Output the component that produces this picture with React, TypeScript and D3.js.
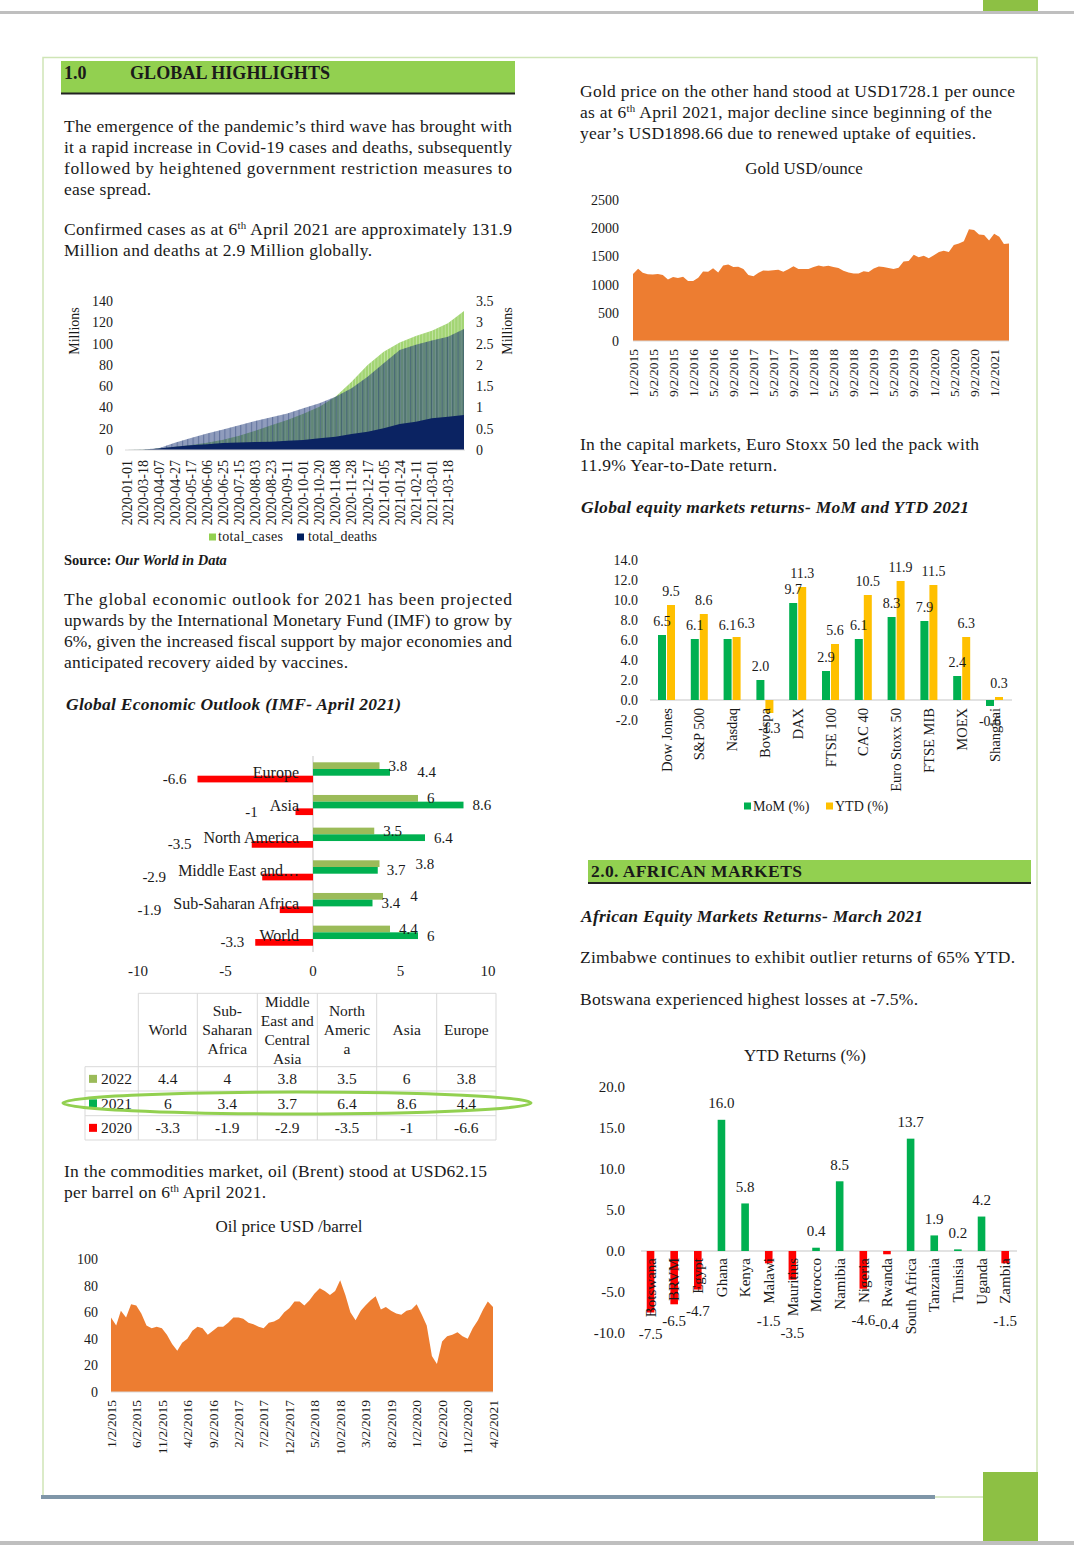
import { useEffect, useRef } from 'react';
import * as d3 from 'd3';

const W = 1074;
const H = 1561;
const FONT = '"Liberation Serif", "Times New Roman", serif';
const INK = '#1a1a1a';
const BODY = 17.5;

// Covid-19 (Our World in Data) — cases and deaths in millions
const covidDates = ['2020-01-01', '2020-03-18', '2020-04-07', '2020-04-27', '2020-05-17', '2020-06-06', '2020-06-25',
  '2020-07-15', '2020-08-03', '2020-08-23', '2020-09-11', '2020-10-01', '2020-10-20', '2020-11-08', '2020-11-28',
  '2020-12-17', '2021-01-05', '2021-01-24', '2021-02-11', '2021-03-01', '2021-03-18', '2021-04-06'];
const covidCasesM = [0, 0.2, 1.4, 3.0, 4.7, 6.8, 9.6, 13.4, 18.1, 23.2, 28.3, 34.0, 40.6, 50.0, 64.2, 79.9, 92.4, 100.9, 107.0, 112.0, 119.0, 130.5];
const covidDeathsM = [0, 0.01, 0.04, 0.17, 0.28, 0.39, 0.48, 0.58, 0.68, 0.77, 0.86, 0.98, 1.10, 1.25, 1.45, 1.72, 2.04, 2.35, 2.47, 2.57, 2.66, 2.84];
const covidDenseM = [0, 0, 1.5, 3, 4.5, 5.5, 6.5, 7, 7.5, 7.8, 8.8, 9.4, 11, 12.5, 15, 17.2, 20.4, 24.4, 26.6, 29.8, 31.3, 32.9];

// Gold USD/ounce, monthly from Jan 2015 to Apr 2021
const goldUsd = [
  1186, 1280, 1208, 1183, 1180, 1190, 1170, 1090, 1135, 1115, 1140, 1065,
  1062, 1120, 1232, 1230, 1290, 1215, 1340, 1357, 1310, 1315, 1275, 1170,
  1150, 1210, 1250, 1245, 1255, 1265, 1230, 1270, 1325, 1275, 1275, 1275,
  1310, 1340, 1320, 1335, 1310, 1295, 1245, 1215, 1195, 1195, 1235, 1225,
  1285, 1320, 1310, 1295, 1275, 1300, 1410, 1420, 1530, 1485, 1510, 1465,
  1520, 1580, 1600, 1580, 1700, 1730, 1770, 1980, 1970, 1890, 1880, 1780,
  1900, 1850, 1720, 1728];

// Brent oil USD/barrel, monthly from Jan 2015 to Apr 2021
const oilUsd = [
  56, 50, 61, 56, 66, 65, 59, 50, 48, 49, 48, 43,
  36, 31, 37, 40, 46, 49, 48, 43, 46, 49, 49, 52,
  56, 56, 55, 52, 51, 49, 48, 52, 53, 55, 60, 63,
  68, 68, 65, 69, 74, 78, 76, 73, 76, 84, 73, 60,
  54, 61, 65, 69, 72, 62, 64, 61, 59, 58, 61, 62,
  66, 58, 50, 27, 21, 38, 42, 43, 45, 42, 40, 48,
  54, 62, 68, 64];

// IMF outlook
const imfRegions = ['World', 'Sub-Saharan Africa', 'Middle East and Central Asia', 'North America', 'Asia', 'Europe'];
const imfChartLabels = ['World', 'Sub-Saharan Africa', 'Middle East and\u2026', 'North America', 'Asia', 'Europe'];
const imfHeaderLines = [['World'], ['Sub-', 'Saharan', 'Africa'], ['Middle', 'East and', 'Central', 'Asia'], ['North', 'Americ', 'a'], ['Asia'], ['Europe']];
const imfYears = ['2022', '2021', '2020'];
const imf2022 = [4.4, 4, 3.8, 3.5, 6, 3.8];
const imf2021 = [6, 3.4, 3.7, 6.4, 8.6, 4.4];
const imf2020 = [-3.3, -1.9, -2.9, -3.5, -1, -6.6];
const imfColors = ['#9bbb59', '#00b050', '#ff0000'];

// Global equity returns
const eqMarkets = ['Dow Jones', 'S&P 500', 'Nasdaq', 'Bovespa', 'DAX', 'FTSE 100', 'CAC 40', 'Euro Stoxx 50', 'FTSE MIB', 'MOEX', 'Shanghai'];
const eqMoM = [6.5, 6.1, 6.1, 2.0, 9.7, 2.9, 6.1, 8.3, 7.9, 2.4, -0.6];
const eqYTD = [9.5, 8.6, 6.3, -1.3, 11.3, 5.6, 10.5, 11.9, 11.5, 6.3, 0.3];

// African markets YTD
const afMarkets = ['Botswana', 'BRVM', 'Egypt', 'Ghana', 'Kenya', 'Malawi', 'Mauritius', 'Morocco', 'Namibia', 'Nigeria', 'Rwanda', 'South Africa', 'Tanzania', 'Tunisia', 'Uganda', 'Zambia'];
const afYTD = [-7.5, -6.5, -4.7, 16.0, 5.8, -1.5, -3.5, 0.4, 8.5, -4.6, -0.4, 13.7, 1.9, 0.2, 4.2, -1.5];

type Part = { t: string; sup?: boolean };
type Opt = { size?: number; weight?: string; italic?: boolean; anchor?: string; fill?: string; len?: number };

function txt(g: any, x: number, y: number, parts: string | Part[], o: Opt = {}) {
  const size = o.size || BODY;
  const t = g.append('text').attr('x', x).attr('y', y)
    .attr('font-family', FONT).attr('font-size', size).attr('fill', o.fill || INK);
  if (o.weight) t.attr('font-weight', o.weight);
  if (o.italic) t.attr('font-style', 'italic');
  if (o.anchor) t.attr('text-anchor', o.anchor);
  if (o.len) t.attr('textLength', o.len).attr('lengthAdjust', 'spacing');
  const arr = typeof parts === 'string' ? [{ t: parts }] : parts;
  let up = false;
  arr.forEach((p) => {
    const s = t.append('tspan').text(p.t);
    if (p.sup) { s.attr('font-size', size * 0.62).attr('dy', -6); up = true; }
    else if (up) { s.attr('dy', 6); up = false; }
  });
  return t;
}

function vtxt(g: any, x: number, y: number, s: string, size: number) {
  return g.append('text')
    .attr('transform', `translate(${x},${y}) rotate(-90)`)
    .attr('text-anchor', 'end').attr('dy', '0.35em')
    .attr('font-family', FONT).attr('font-size', size).attr('fill', INK)
    .text(s);
}

const monthDate = (i: number) => new Date(2015, i, 2);
const fmtDate = (d: Date) => `${d.getMonth() + 1}/${d.getDate()}/${d.getFullYear()}`;
const textW = (t: any) => (t.node() as SVGTextElement).getComputedTextLength();

export default function App() {
  const ref = useRef<SVGSVGElement>(null);

  useEffect(() => {
    if (!ref.current) return;
    const svg = d3.select(ref.current);
    svg.selectAll('*').remove();
    const defs = svg.append('defs');

    // page frame
    svg.append('rect').attr('width', W).attr('height', H).attr('fill', '#fff');
    svg.append('rect').attr('x', 0).attr('y', 11).attr('width', W).attr('height', 3).attr('fill', '#bfbfbf');
    svg.append('rect').attr('x', 983).attr('y', 0).attr('width', 55).attr('height', 11).attr('fill', '#8dc044');
    svg.append('path').attr('d', 'M43,1497 V57.5 H1037 V1472').attr('fill', 'none').attr('stroke', '#cfe5b6').attr('stroke-width', 1.5);
    svg.append('line').attr('x1', 935).attr('x2', 983).attr('y1', 1497).attr('y2', 1497).attr('stroke', '#cfe5b6').attr('stroke-width', 1.5);
    svg.append('rect').attr('x', 41).attr('y', 1495).attr('width', 894).attr('height', 4).attr('fill', '#7f96a8');
    svg.append('rect').attr('x', 983).attr('y', 1472).attr('width', 55).attr('height', 69).attr('fill', '#8dc044');
    svg.append('rect').attr('x', 0).attr('y', 1541).attr('width', W).attr('height', 4).attr('fill', '#bfbfbf');

    // ---------- left column text ----------
    svg.append('rect').attr('x', 61).attr('y', 61).attr('width', 454).attr('height', 32).attr('fill', '#92d050');
    svg.append('rect').attr('x', 61).attr('y', 92.5).attr('width', 454).attr('height', 2).attr('fill', '#222');
    txt(svg, 64, 79, '1.0', { size: 18, weight: 'bold' });
    txt(svg, 130, 79, 'GLOBAL HIGHLIGHTS', { size: 18, weight: 'bold', len: 200 });

    txt(svg, 64, 132, 'The emergence of the pandemic\u2019s third wave has brought with', { len: 448 });
    txt(svg, 64, 153, 'it a rapid increase in Covid-19 cases and deaths, subsequently', { len: 448 });
    txt(svg, 64, 174, 'followed by heightened government restriction measures to', { len: 448 });
    txt(svg, 64, 195, 'ease spread.', { len: 87 });
    txt(svg, 64, 235, [{ t: 'Confirmed cases as at 6' }, { t: 'th', sup: true }, { t: ' April 2021 are approximately 131.9' }], { len: 448 });
    txt(svg, 64, 256, 'Million and deaths at 2.9 Million globally.', { len: 308 });

    // ---------- covid chart ----------
    const cg = svg.append('g');
    const cx = d3.scalePoint<number>().domain(d3.range(covidDates.length)).range([126.7, 464]);
    const yL = d3.scaleLinear().domain([0, 140]).range([450, 301]);
    const yR = d3.scaleLinear().domain([0, 3.5]).range([450, 301]);
    const pat = defs.append('pattern').attr('id', 'cols').attr('width', 3.2).attr('height', 4).attr('patternUnits', 'userSpaceOnUse');
    pat.append('rect').attr('width', 0.8).attr('height', 4).attr('fill', '#fff').attr('opacity', 0.35);
    const pat2 = defs.append('pattern').attr('id', 'cols2').attr('width', 5.3).attr('height', 4).attr('patternUnits', 'userSpaceOnUse');
    pat2.append('rect').attr('x', 2).attr('width', 0.8).attr('height', 4).attr('fill', '#0b2362').attr('opacity', 0.45);
    const areaL = d3.area<number>().x((_, i) => cx(i) as number).y0(yL(0)).y1((d) => yL(d));
    const areaR = d3.area<number>().x((_, i) => cx(i) as number).y0(yR(0)).y1((d) => yR(d));
    cg.append('path').datum(covidCasesM).attr('d', areaL).attr('fill', '#a3d574');
    cg.append('path').datum(covidCasesM).attr('d', areaL).attr('fill', 'url(#cols)');
    cg.append('path').datum(covidDeathsM).attr('d', areaR).attr('fill', '#1f3a7a').attr('fill-opacity', 0.5);
    cg.append('path').datum(covidDeathsM).attr('d', areaR).attr('fill', 'url(#cols2)');
    cg.append('path').datum(covidDenseM).attr('d', areaL).attr('fill', '#0b2362');
    cg.append('line').attr('x1', 125).attr('x2', 465).attr('y1', yL(0)).attr('y2', yL(0)).attr('stroke', '#d9d9d9');
    d3.range(0, 141, 20).forEach((v) => txt(cg, 113, yL(v) + 5, String(v), { size: 14, anchor: 'end' }));
    d3.range(0, 3.51, 0.5).forEach((v) => txt(cg, 476, yR(v) + 5, String(v), { size: 14 }));
    cg.append('text').attr('transform', 'translate(79,331) rotate(-90)').attr('text-anchor', 'middle')
      .attr('font-family', FONT).attr('font-size', 14).attr('fill', INK).text('Millions');
    cg.append('text').attr('transform', 'translate(512,331) rotate(-90)').attr('text-anchor', 'middle')
      .attr('font-family', FONT).attr('font-size', 14).attr('fill', INK).text('Millions');
    covidDates.slice(0, -1).forEach((d, i) => vtxt(cg, cx(i) as number, 460, d, 14));
    cg.append('rect').attr('x', 209).attr('y', 533.5).attr('width', 7).attr('height', 7).attr('fill', '#92d050');
    txt(cg, 218, 541, 'total_cases', { size: 14, len: 65 });
    cg.append('rect').attr('x', 297).attr('y', 533.5).attr('width', 7).attr('height', 7).attr('fill', '#002060');
    txt(cg, 308, 541, 'total_deaths', { size: 14, len: 69 });
    const src = txt(svg, 64, 565, 'Source: ', { size: 14.5, weight: 'bold' });
    src.append('tspan').attr('font-style', 'italic').text('Our World in Data');

    txt(svg, 64, 605, 'The global economic outlook for 2021 has been projected', { len: 448 });
    txt(svg, 64, 626, 'upwards by the International Monetary Fund (IMF) to grow by', { len: 448 });
    txt(svg, 64, 647, '6%, given the increased fiscal support by major economies and', { len: 448 });
    txt(svg, 64, 668, 'anticipated recovery aided by vaccines.', { len: 284 });
    txt(svg, 66, 710, 'Global Economic Outlook (IMF- April 2021)', { weight: 'bold', italic: true, len: 335 });

    // ---------- IMF bar chart ----------
    const ig = svg.append('g');
    const ix = d3.scaleLinear().domain([-10, 10]).range([138, 488]);
    const order = d3.range(imfRegions.length).reverse();
    const iy = d3.scaleBand<number>().domain(order).range([756, 952]);
    const sub = d3.scaleBand<string>().domain(imfYears).range([6.3, 26.4]);
    const series = [imf2022, imf2021, imf2020];
    ig.append('line').attr('x1', ix(0)).attr('x2', ix(0)).attr('y1', 756).attr('y2', 952).attr('stroke', '#d9d9d9').attr('stroke-width', 1.5);
    order.forEach((r) => {
      series.forEach((s, k) => {
        const v = s[r];
        ig.append('rect')
          .attr('x', Math.min(ix(0), ix(v))).attr('width', Math.abs(ix(v) - ix(0)))
          .attr('y', (iy(r) as number) + (sub(imfYears[k]) as number)).attr('height', sub.bandwidth())
          .attr('fill', imfColors[k]);
      });
    });
    order.forEach((r) => {
      const yc = (iy(r) as number) + iy.bandwidth() / 2;
      const cat = txt(ig, 299, yc + 5.5, imfChartLabels[r], { size: 16, anchor: 'end' });
      const catLeft = 299 - textW(cat);
      const placed: { l: number; r: number }[] = [];
      // positive labels: smaller value placed first, larger one moves right if they collide
      const ks = [0, 1, 2].sort((a, b) => series[a][r] - series[b][r]);
      ks.forEach((k) => {
        const v = series[k][r];
        const by = (iy(r) as number) + (sub(imfYears[k]) as number) + sub.bandwidth() / 2 + 5;
        if (v >= 0) {
          const t = txt(ig, 0, by, String(v), { size: 15 });
          const w = textW(t);
          let left = ix(v) + 9;
          placed.forEach((p) => { if (left < p.r + 4 && left + w > p.l - 4) left = p.r + 10; });
          t.attr('x', left);
          placed.push({ l: left, r: left + w });
        } else {
          const right = Math.min(ix(v) - 11, catLeft - 12);
          txt(ig, right, by, String(v), { size: 15, anchor: 'end' });
        }
      });
    });
    [-10, -5, 0, 5, 10].forEach((v) => txt(ig, ix(v), 976, String(v), { size: 15, anchor: 'middle' }));

    // ---------- IMF table ----------
    const tg = svg.append('g');
    const colX = [138.3, 197.3, 257.3, 317.3, 376.7, 436.7, 496];
    const rowY = [993.3, 1066.7, 1091, 1115.7, 1140];
    const border = '#d9d9d9';
    tg.append('line').attr('x1', colX[0]).attr('x2', colX[6]).attr('y1', rowY[0]).attr('y2', rowY[0]).attr('stroke', border);
    rowY.slice(1).forEach((y) => tg.append('line').attr('x1', 85).attr('x2', colX[6]).attr('y1', y).attr('y2', y).attr('stroke', border));
    colX.forEach((x) => tg.append('line').attr('x1', x).attr('x2', x).attr('y1', rowY[0]).attr('y2', rowY[4]).attr('stroke', border));
    tg.append('line').attr('x1', 85).attr('x2', 85).attr('y1', rowY[1]).attr('y2', rowY[4]).attr('stroke', border);
    imfHeaderLines.forEach((lines, c) => {
      const xc = (colX[c] + colX[c + 1]) / 2;
      const y0 = 1030 - ((lines.length - 1) * 19) / 2;
      lines.forEach((ln, j) => txt(tg, xc, y0 + j * 19 + 5, ln, { size: 15.5, anchor: 'middle' }));
    });
    series.forEach((s, k) => {
      const yc = (rowY[k + 1] + rowY[k + 2]) / 2;
      tg.append('rect').attr('x', 89).attr('y', yc - 4).attr('width', 8).attr('height', 8).attr('fill', imfColors[k]);
      txt(tg, 101, yc + 5.5, imfYears[k], { size: 15.5 });
      s.forEach((v, c) => txt(tg, (colX[c] + colX[c + 1]) / 2, yc + 5.5, String(v), { size: 15.5, anchor: 'middle' }));
    });
    tg.append('ellipse').attr('cx', 297).attr('cy', 1103).attr('rx', 234).attr('ry', 11)
      .attr('fill', 'none').attr('stroke', '#92d050').attr('stroke-width', 3);

    txt(svg, 64, 1177, 'In the commodities market, oil (Brent) stood at USD62.15', { len: 423 });
    txt(svg, 64, 1198, [{ t: 'per barrel on 6' }, { t: 'th', sup: true }, { t: ' April 2021.' }], { len: 202 });

    // ---------- oil chart ----------
    const og = svg.append('g');
    txt(og, 289, 1232, 'Oil price USD /barrel', { size: 17, anchor: 'middle' });
    const oilDates = oilUsd.map((_, i) => monthDate(i));
    const ox = d3.scaleTime().domain([oilDates[0], oilDates[oilDates.length - 1]]).range([111, 493]);
    const oy = d3.scaleLinear().domain([0, 100]).range([1392, 1259]);
    og.append('path').datum(oilUsd)
      .attr('d', d3.area<number>().x((_, i) => ox(oilDates[i])).y0(oy(0)).y1((d) => oy(d)))
      .attr('fill', '#ed7d31');
    og.append('line').attr('x1', 111).attr('x2', 493).attr('y1', oy(0)).attr('y2', oy(0)).attr('stroke', '#d9d9d9');
    d3.range(0, 101, 20).forEach((v) => txt(og, 98, oy(v) + 5, String(v), { size: 14, anchor: 'end' }));
    d3.range(0, oilUsd.length, 5).forEach((i) => vtxt(og, ox(oilDates[i]), 1400, fmtDate(oilDates[i]), 13.5));

    // ---------- right column ----------
    txt(svg, 580, 97, 'Gold price on the other hand stood at USD1728.1 per ounce', { len: 435 });
    txt(svg, 580, 118, [{ t: 'as at 6' }, { t: 'th', sup: true }, { t: ' April 2021, major decline since beginning of the' }], { len: 412 });
    txt(svg, 580, 139, 'year\u2019s USD1898.66 due to renewed uptake of equities.', { len: 396 });

    // gold chart
    const gg = svg.append('g');
    txt(gg, 804, 174, 'Gold USD/ounce', { size: 17, anchor: 'middle' });
    const goldDates = goldUsd.map((_, i) => monthDate(i));
    const gx = d3.scaleTime().domain([goldDates[0], goldDates[goldDates.length - 1]]).range([633, 1009]);
    const gy = d3.scaleLinear().domain([0, 2500]).range([341, 200]);
    gg.append('path').datum(goldUsd)
      .attr('d', d3.area<number>().x((_, i) => gx(goldDates[i])).y0(gy(0)).y1((d) => gy(d)))
      .attr('fill', '#ed7d31');
    gg.append('line').attr('x1', 633).attr('x2', 1009).attr('y1', gy(0)).attr('y2', gy(0)).attr('stroke', '#d9d9d9');
    d3.range(0, 2501, 500).forEach((v) => txt(gg, 619, gy(v) + 5, String(v), { size: 14, anchor: 'end' }));
    d3.range(0, goldUsd.length, 4).forEach((i) => vtxt(gg, gx(goldDates[i]), 349, fmtDate(goldDates[i]), 13.5));

    txt(svg, 580, 450, 'In the capital markets, Euro Stoxx 50 led the pack with', { len: 399 });
    txt(svg, 580, 471, '11.9% Year-to-Date return.', { len: 197 });
    txt(svg, 581, 513, 'Global equity markets returns- MoM and YTD 2021', { weight: 'bold', italic: true, len: 388 });

    // equity chart
    const eg = svg.append('g');
    const ex = d3.scaleBand<string>().domain(eqMarkets).range([650.1, 1010.9]);
    const ey = d3.scaleLinear().domain([-2, 14]).range([720, 560]);
    d3.range(-2, 14.1, 2).forEach((v) => txt(eg, 638, ey(v) + 5, v.toFixed(1), { size: 14, anchor: 'end' }));
    eg.append('line').attr('x1', 650).attr('x2', 1012).attr('y1', ey(0)).attr('y2', ey(0)).attr('stroke', '#d9d9d9').attr('stroke-width', 1.5);
    const eqSeries = [{ vals: eqMoM, off: -8.5, color: '#00b050' }, { vals: eqYTD, off: 0.5, color: '#ffc000' }];
    eqSeries.forEach((s) => {
      s.vals.forEach((v, i) => {
        const c = (ex(eqMarkets[i]) as number) + ex.bandwidth() / 2;
        eg.append('rect').attr('x', c + s.off).attr('width', 8)
          .attr('y', Math.min(ey(0), ey(v))).attr('height', Math.abs(ey(v) - ey(0))).attr('fill', s.color);
      });
    });
    eqMarkets.forEach((m) => vtxt(eg, (ex(m) as number) + ex.bandwidth() / 2, 708, m, 14.5));
    eqMarkets.forEach((m, i) => {
      const c = (ex(m) as number) + ex.bandwidth() / 2;
      const boxes: { l: number; r: number; y: number }[] = [];
      eqSeries.forEach((s) => {
        const v = s.vals[i];
        const y = v >= 0 ? ey(v) - 9 : ey(v) + 20;
        const t = txt(eg, 0, y, v.toFixed(1), { size: 14 });
        const w = textW(t);
        let left = c + s.off + 4 - w / 2;
        boxes.forEach((b) => { if (Math.abs(b.y - y) < 12 && left < b.r + 1) left = b.r + 1; });
        t.attr('x', left);
        boxes.push({ l: left, r: left + w, y });
      });
    });
    eg.append('rect').attr('x', 744).attr('y', 802.5).attr('width', 7).attr('height', 7).attr('fill', '#00b050');
    txt(eg, 753, 811, 'MoM (%)', { size: 14 });
    eg.append('rect').attr('x', 826).attr('y', 802.5).attr('width', 7).attr('height', 7).attr('fill', '#ffc000');
    txt(eg, 835, 811, 'YTD (%)', { size: 14 });

    // African markets section
    svg.append('rect').attr('x', 588).attr('y', 860).attr('width', 443).attr('height', 22).attr('fill', '#92d050');
    svg.append('rect').attr('x', 588).attr('y', 882).attr('width', 443).attr('height', 2).attr('fill', '#222');
    txt(svg, 591, 877, '2.0. AFRICAN MARKETS', { size: 17.5, weight: 'bold', len: 211 });
    txt(svg, 581, 922, 'African Equity Markets Returns- March 2021', { weight: 'bold', italic: true, len: 342 });
    txt(svg, 580, 963, 'Zimbabwe continues to exhibit outlier returns of 65% YTD.', { len: 435 });
    txt(svg, 580, 1005, 'Botswana experienced highest losses at -7.5%.', { len: 338 });

    const ag = svg.append('g');
    txt(ag, 805, 1061, 'YTD Returns (%)', { size: 17, anchor: 'middle' });
    const ax = d3.scaleBand<string>().domain(afMarkets).range([638.7, 1017]);
    const ay = d3.scaleLinear().domain([-10, 20]).range([1333, 1087]);
    d3.range(-10, 20.1, 5).forEach((v) => txt(ag, 625, ay(v) + 5, v.toFixed(1), { size: 15, anchor: 'end' }));
    ag.append('line').attr('x1', 641).attr('x2', 1017).attr('y1', ay(0)).attr('y2', ay(0)).attr('stroke', '#d9d9d9').attr('stroke-width', 1.5);
    afYTD.forEach((v, i) => {
      const c = (ax(afMarkets[i]) as number) + ax.bandwidth() / 2;
      ag.append('rect').attr('x', c - 3.8).attr('width', 7.6)
        .attr('y', Math.min(ay(0), ay(v))).attr('height', Math.abs(ay(v) - ay(0)))
        .attr('fill', v >= 0 ? '#00b050' : '#ff0000');
    });
    afMarkets.forEach((m, i) => {
      const c = (ax(m) as number) + ax.bandwidth() / 2;
      const lbl = vtxt(ag, c, 1258, m, 15);
      const v = afYTD[i];
      if (v >= 0) {
        txt(ag, c, ay(v) - 11.5, v.toFixed(1), { size: 15, anchor: 'middle' });
      } else {
        const end = 1258 + textW(lbl);
        txt(ag, c, Math.max(ay(v), end) + 22, v.toFixed(1), { size: 15, anchor: 'middle' });
      }
    });
  }, []);

  return (
    <div style={{ position: 'absolute', left: 0, top: 0, width: W, height: H, background: '#fff', overflow: 'hidden' }}>
      <svg ref={ref} width={W} height={H} style={{ display: 'block' }} />
    </div>
  );
}
